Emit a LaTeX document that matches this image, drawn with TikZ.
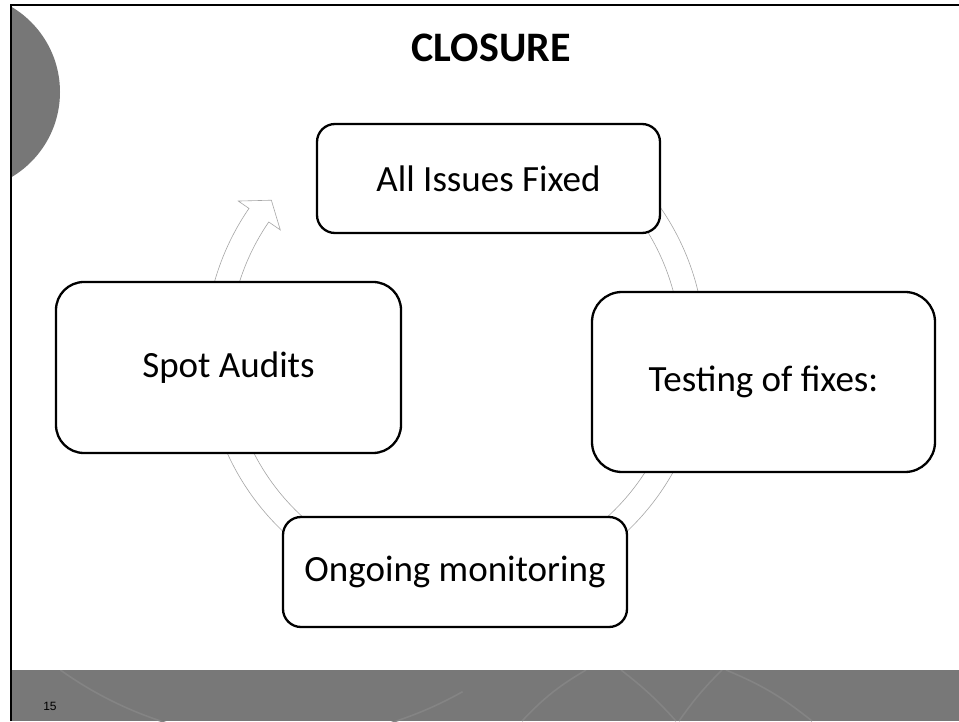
\documentclass[tikz,border=0pt]{standalone}
\usepackage{fontspec}
\setmainfont{Carlito}
\newfontfamily\numfont{Liberation Sans}
\definecolor{bargray}{HTML}{787878}
\definecolor{decogray}{HTML}{848484}
\definecolor{circgray}{HTML}{777777}
\newcommand{\cycarr}[3]{%
  \draw[cyc] (#1:250pt) arc[start angle=#1,end angle=#2,radius=250pt]
    -- (#2:263pt) -- (#3:237pt) -- (#2:212pt) -- (#2:226pt)
    arc[start angle=#2,end angle=#1,radius=226pt] -- cycle;}
\begin{document}
\begin{tikzpicture}[x=1pt,y=1pt,
  box/.style={draw=black, line width=2.3pt, fill=white, rounded corners=#1,
    align=center, inner sep=0pt, font=\fontsize{37}{44}\selectfont},
  cyc/.style={draw=black!35, line width=0.6pt, fill=white, line join=miter},
  deco/.style={draw=decogray, line width=1.6pt},
  frame/.style={draw=black, line width=2pt}]
\useasboundingbox (0,0) rectangle (959,721);
\fill[white] (0,0) rectangle (959,721);
% bottom bar
\fill[bargray] (10,0) rectangle (959,51);
\begin{scope}
  \clip (10,0) rectangle (959,51);
  \draw[deco] (278.5,356) ++(234.4:375pt) arc[start angle=234.4,end angle=299.4,radius=375pt];
  \coordinate (l3a) at (586,51); \coordinate (l3b) at (522,0);
  \coordinate (l4a) at (621,51); \coordinate (l4b) at (676,0);
  \coordinate (l5a) at (722,51); \coordinate (l5b) at (679,0);
  \coordinate (l6a) at (726,51); \coordinate (l6b) at (812,0);
  \draw[deco] (l3a) to[bend right=8] (l3b);
  \draw[deco] (l4a) to[bend left=5] (l4b);
  \draw[deco] (l5a) to[bend right=5] (l5b);
  \draw[deco] (l6a) to[bend left=8] (l6b);
\end{scope}
% top-left circle
\begin{scope}
  \clip (11,0) rectangle (959,716);
  \fill[circgray] (-39,629) circle[radius=99pt];
\end{scope}
% frame
\draw[frame] (11,0) -- (11,716) -- (959,716);
% title
\node[font=\bfseries\fontsize{42}{50}\selectfont] (title) at (491,673) {CLOSURE};
% cycle arrows
\begin{scope}[shift={(455,371)}]
  \cycarr{175}{145.5}{140.8}
  \cycarr{60}{9.7}{5}
  \cycarr{-15}{-55.3}{-60}
  \cycarr{-100}{-165.3}{-170}
\end{scope}
% boxes
\node[box=18pt, minimum width=343pt, minimum height=109pt] (aif) at (488.5,542.5) {All Issues Fixed};
\node[box=30pt, minimum width=343pt, minimum height=180pt] (test) at (763.5,339) {Testing of fixes:};
\node[box=18pt, minimum width=344pt, minimum height=110pt] (ong) at (455,149) {Ongoing monitoring};
\node[box=28pt, minimum width=345pt, minimum height=171pt] (spot) at (228.5,353.5) {Spot Audits};
% slide number
\node[font=\numfont\fontsize{12}{14}\selectfont] (num) at (50,15) {15};
\end{tikzpicture}
\end{document}
